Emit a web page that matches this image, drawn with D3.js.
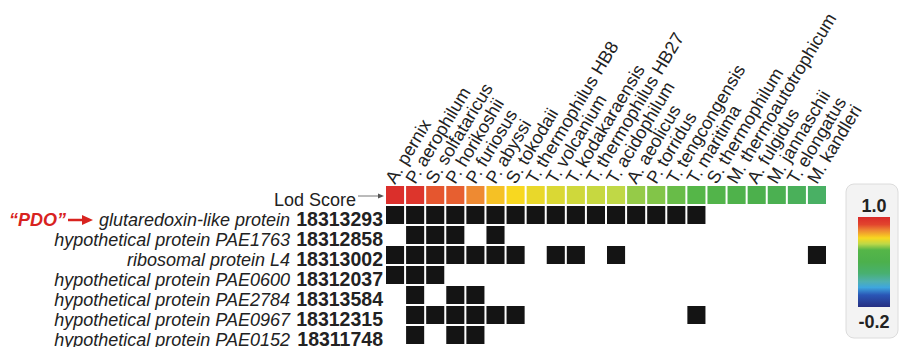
<!DOCTYPE html>
<html>
<head>
<meta charset="utf-8">
<script src="https://d3js.org/d3.v7.min.js"></script>
<style>
  body { margin: 0; background: #fff; }
  text { font-family: "Liberation Sans", Arial, sans-serif; fill: #222; }
  .species { font-size: 18px; }
  .pname { font-size: 18px; font-style: italic; }
  .gid { font-size: 19.5px; font-weight: bold; }
</style>
</head>
<body>
<script>
var species = ["A. pernix", "P. aerophilum", "S. solfataricus", "P. horikoshii", "P. furiosus",
  "P. abyssi", "S. tokodaii", "T. thermophilus HB8", "T. volcanium", "T. kodakaraensis",
  "T. thermophilus HB27", "T. acidophilum", "A. aeolicus", "P. torridus", "T. tengcongensis",
  "T. maritima", "S. thermophilum", "M. thermoautotrophicum", "A. fulgidus", "M. jannaschii",
  "T. elongatus", "M. kandleri"];

var lodScores = [0.98, 0.96, 0.88, 0.87, 0.82, 0.75, 0.72, 0.70, 0.68, 0.665, 0.655,
  0.645, 0.61, 0.595, 0.575, 0.56, 0.50, 0.46, 0.40, 0.38, 0.34, 0.30];

var proteinNames = ["glutaredoxin-like protein", "hypothetical protein PAE1763", "ribosomal protein L4",
  "hypothetical protein PAE0600", "hypothetical protein PAE2784", "hypothetical protein PAE0967",
  "hypothetical protein PAE0152"];
var geneIds = ["18313293", "18312858", "18313002", "18312037", "18313584", "18312315", "18311748"];

// 1 = homolog present in that species
var presence = [
  [1,1,1,1,1,1,1,1,1,1,1,1,1,1,1,1,0,0,0,0,0,0],
  [0,1,1,1,0,1,0,0,0,0,0,0,0,0,0,0,0,0,0,0,0,0],
  [1,1,1,1,1,1,1,0,1,1,0,1,0,0,0,0,0,0,0,0,0,1],
  [1,1,1,0,0,0,0,0,0,0,0,0,0,0,0,0,0,0,0,0,0,0],
  [0,1,0,1,1,0,0,0,0,0,0,0,0,0,0,0,0,0,0,0,0,0],
  [0,1,1,1,1,1,1,0,0,0,0,0,0,0,0,1,0,0,0,0,0,0],
  [0,1,0,1,1,0,0,0,0,0,0,0,0,0,0,0,0,0,0,0,0,0]
];

var scaleStops = [-0.2, -0.04, 0.06, 0.14, 0.25, 0.4, 0.56, 0.64, 0.72, 0.82, 0.9, 1.0];
var scaleColors = ["#262f82", "#2a56b6", "#3ea6de", "#4fb0b0", "#48b070", "#4cb04c", "#55b648",
  "#bcd848", "#f8d820", "#ee8a32", "#e2452e", "#d92a2a"];

var width = 899, height = 347;
var svg = d3.select("body").append("svg").attr("width", width).attr("height", height);

var color = d3.scaleLinear().domain(scaleStops).range(scaleColors);

var x = d3.scaleBand().domain(d3.range(species.length)).range([386, 826]).paddingInner(0.1);
var rows = ["lod"].concat(geneIds);
var y = d3.scaleBand().domain(rows).range([186, 344]).paddingInner(0.1);

// species labels
svg.append("g").selectAll("text")
  .data(species)
  .enter().append("text")
  .attr("class", "species")
  .attr("transform", function(d, i) {
    return "translate(" + (x(i) + x.bandwidth() / 2) + "," + (y("lod") - 1) + ") rotate(-59)";
  })
  .text(function(d) { return d; });

// lod score row
svg.append("g").selectAll("rect")
  .data(lodScores)
  .enter().append("rect")
  .attr("x", function(d, i) { return x(i); })
  .attr("y", y("lod"))
  .attr("width", x.bandwidth())
  .attr("height", y.bandwidth())
  .attr("fill", function(d) { return color(d); });

// presence cells
presence.forEach(function(row, r) {
  svg.append("g").selectAll("rect")
    .data(row.map(function(v, i) { return {v: v, i: i}; }).filter(function(d) { return d.v; }))
    .enter().append("rect")
    .attr("x", function(d) { return x(d.i); })
    .attr("y", y(geneIds[r]))
    .attr("width", x.bandwidth())
    .attr("height", y.bandwidth())
    .attr("fill", "#141414");
});

// row labels
svg.append("g").selectAll("text")
  .data(proteinNames)
  .enter().append("text")
  .attr("class", "pname")
  .attr("x", 290)
  .attr("y", function(d, i) { return y(geneIds[i]) + y.bandwidth() + 2; })
  .attr("text-anchor", "end")
  .text(function(d) { return d; });

svg.append("g").selectAll("text")
  .data(geneIds)
  .enter().append("text")
  .attr("class", "gid")
  .attr("x", 383)
  .attr("y", function(d) { return y(d) + y.bandwidth() + 2; })
  .attr("text-anchor", "end")
  .text(function(d) { return d; });

// Lod Score label with arrow
svg.append("text")
  .attr("x", 356).attr("y", y("lod") + y.bandwidth() + 2)
  .attr("text-anchor", "end")
  .style("font-size", "18px")
  .text("Lod Score");
var ay = y("lod") + y.bandwidth() / 2 + 1;
svg.append("line").attr("x1", 358).attr("x2", 380).attr("y1", ay).attr("y2", ay)
  .attr("stroke", "#777").attr("stroke-width", 1);
svg.append("path").attr("d", "M378," + (ay - 2.5) + "L384," + ay + "L378," + (ay + 2.5) + "Z").attr("fill", "#555");

// "PDO" marker
var py = y(geneIds[0]) + y.bandwidth() + 2;
svg.append("text")
  .attr("x", 9).attr("y", py)
  .style("font-size", "18px").style("font-weight", "bold").style("font-style", "italic")
  .style("fill", "#d8231f")
  .text("\u201cPDO\u201d");
var pay = py - 6;
svg.append("line").attr("x1", 68).attr("x2", 84).attr("y1", pay).attr("y2", pay)
  .attr("stroke", "#d8231f").attr("stroke-width", 2.5);
svg.append("path").attr("d", "M82," + (pay - 5) + "L93," + pay + "L82," + (pay + 5) + "Z").attr("fill", "#d8231f");

// colour bar legend (top = 1.0, bottom = -0.2)
var defs = svg.append("defs");
var grad = defs.append("linearGradient").attr("id", "lodgrad")
  .attr("x1", 0).attr("x2", 0).attr("y1", 0).attr("y2", 1);
var cb = d3.scaleLinear().domain([1.0, -0.2]).range([0, 1]);
grad.selectAll("stop")
  .data(scaleStops.slice().reverse())
  .enter().append("stop")
  .attr("offset", function(d) { return cb(d); })
  .attr("stop-color", function(d) { return color(d); });

svg.append("rect")
  .attr("x", 846).attr("y", 184).attr("width", 52).attr("height", 154)
  .attr("rx", 8).attr("fill", "#f3f3f3").attr("stroke", "#dcdcdc");
svg.append("rect")
  .attr("x", 858).attr("y", 217).attr("width", 32).attr("height", 90)
  .attr("fill", "url(#lodgrad)");
svg.append("text").attr("x", 874).attr("y", 212).attr("text-anchor", "middle")
  .style("font-size", "18px").style("font-weight", "bold").text("1.0");
svg.append("text").attr("x", 874).attr("y", 328).attr("text-anchor", "middle")
  .style("font-size", "18px").style("font-weight", "bold").text("-0.2");
</script>
</body>
</html>
